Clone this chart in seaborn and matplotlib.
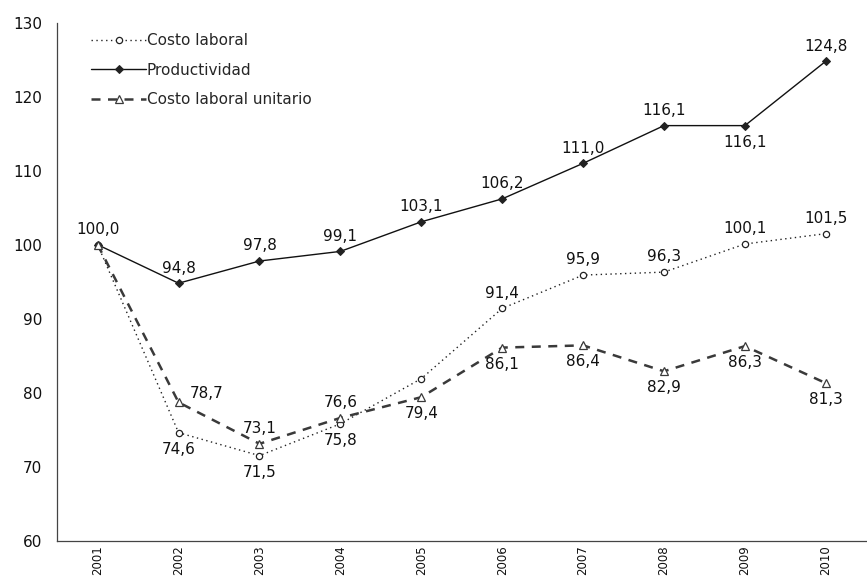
import matplotlib
matplotlib.use("Agg")
import matplotlib.pyplot as plt
import seaborn as sns
import numpy as np

years = ["2001", "2002", "2003", "2004", "2005", "2006", "2007", "2008", "2009", "2010"]
costo_laboral = [100.0, 74.6, 71.5, 75.8, 81.9, 91.4, 95.9, 96.3, 100.1, 101.5]
productividad = [100.0, 94.8, 97.8, 99.1, 103.1, 106.2, 111.0, 116.1, 116.1, 124.8]
clu = [100.0, 78.7, 73.1, 76.6, 79.4, 86.1, 86.4, 82.9, 86.3, 81.3]
yticks = [60, 70, 80, 90, 100, 110, 120, 130]

sns.set_theme(style="white")
plt.rcParams["font.family"] = ["DejaVu Sans"]

fig = plt.figure(figsize=(8.67, 5.79), dpi=100)
ax = fig.add_axes([0.066, 0.0661, 0.9331, 0.8946])

x = np.arange(len(years))

sns.lineplot(x=x, y=costo_laboral, ax=ax, color="#222222", linewidth=1.0,
             linestyle=(0, (1, 2.5)), marker="o", markersize=4.5,
             markerfacecolor="white", markeredgecolor="#222222", markeredgewidth=0.9,
             label="Costo laboral")
sns.lineplot(x=x, y=productividad, ax=ax, color="#111111", linewidth=1.0,
             linestyle="-", marker="D", markersize=4.2,
             markerfacecolor="#222222", markeredgecolor="#222222",
             label="Productividad")
sns.lineplot(x=x, y=clu, ax=ax, color="#3a3a3a", linewidth=1.8,
             linestyle=(0, (3.6, 3.0)), marker="^", markersize=5.5,
             markerfacecolor="white", markeredgecolor="#3a3a3a", markeredgewidth=0.9,
             label="Costo laboral unitario")

def fmt(v):
    return f"{v:.1f}".replace(".", ",")

# label placement: 'a' above, 'b' below, 'n' none, 'r' right-above
pos_cl = ["n", "b", "b", "b", "n", "a", "a", "a", "a", "a"]
pos_pr = ["a", "a", "a", "a", "a", "a", "a", "a", "b", "a"]
pos_clu = ["n", "r", "a", "a", "b", "b", "b", "b", "b", "b"]

def annotate(vals, pos):
    for i, (v, p) in enumerate(zip(vals, pos)):
        if p == "n":
            continue
        if p == "a":
            off, va, ha = (0, 5.5), "bottom", "center"
        elif p == "b":
            off, va, ha = (0, -6.5), "top", "center"
        else:
            off, va, ha = (8, 1), "bottom", "left"
        ax.annotate(fmt(v), (i, v), xytext=off, textcoords="offset points",
                    ha=ha, va=va, fontsize=11, color="#111111")

annotate(costo_laboral, pos_cl)
annotate(productividad, pos_pr)
annotate(clu, pos_clu)

ax.set_xlim(-0.5, len(years) - 0.5)
ax.set_ylim(60, 130)
ax.set_yticks(yticks)
ax.set_yticklabels([str(t) for t in yticks], fontsize=11, color="#111111")
ax.set_xticks(x)
ax.set_xticklabels(years, rotation=90, fontsize=8.5, color="#111111")
ax.set_xticks(np.arange(-0.5, len(years), 1.0), minor=True)
ax.tick_params(axis="x", which="major", length=0, pad=3)
ax.tick_params(axis="x", which="minor", length=3.5, direction="out", color="#444444", width=0.8)
ax.tick_params(axis="y", length=5, direction="out", color="#444444", width=0.8, pad=6)

for s in ["top", "right"]:
    ax.spines[s].set_visible(False)
for s in ["left", "bottom"]:
    ax.spines[s].set_color("#444444")
    ax.spines[s].set_linewidth(0.9)

ax.grid(False)
leg = ax.legend(loc="upper left", bbox_to_anchor=(0.0418, 0.98), frameon=False, fontsize=11,
                handlelength=3.6, handletextpad=0.05, labelspacing=0.95,
                borderaxespad=0.0, borderpad=0.0)

fig.savefig("out.png", dpi=100)
